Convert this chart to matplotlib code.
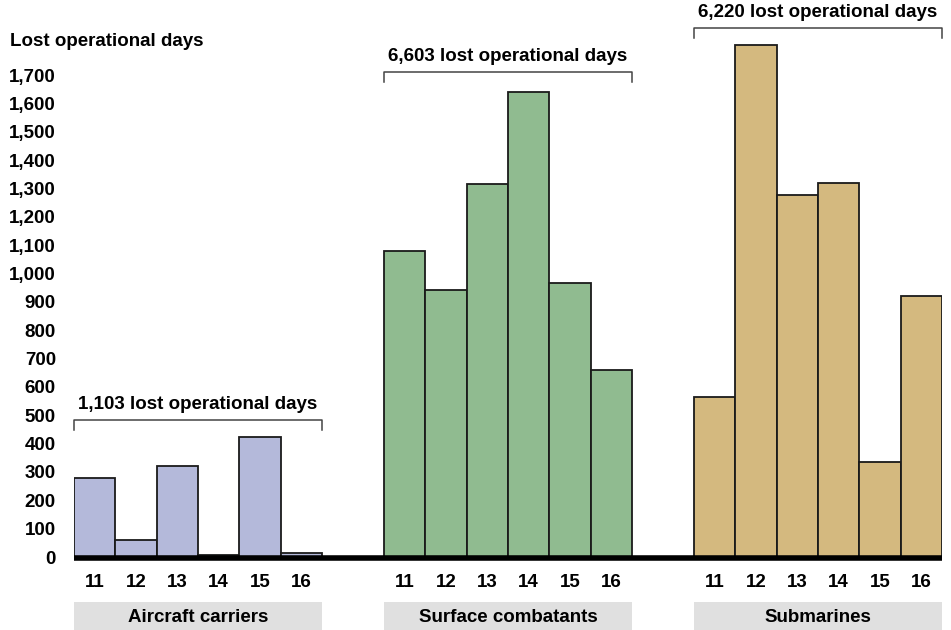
import matplotlib.pyplot as plt
from matplotlib.patches import Rectangle

plt.rcParams['font.family'] = ['Liberation Sans', 'DejaVu Sans']
plt.rcParams['font.weight'] = 'bold'

# data
groups = ["Aircraft carriers", "Surface combatants", "Submarines"]
years = ["11", "12", "13", "14", "15", "16"]
carriers = [278, 60, 322, 8, 422, 15]
surface = [1078, 942, 1317, 1640, 966, 660]
submarines = [565, 1805, 1276, 1320, 334, 920]
totals = ["1,103", "6,603", "6,220"]
colors = ["#b4b9da", "#90bb90", "#d4b97f"]
yticks = list(range(0, 1800, 100))

series = [carriers, surface, submarines]
bracket_y = [483, 1710, 1866]
group_step = 7.5
fs = 13.5

fig = plt.figure(figsize=(9.51, 6.30), dpi=100, facecolor="w")
ax = fig.add_axes([74 / 951, 73 / 630, 868 / 951, 538.6 / 630])
ax.set_xlim(0, 21)
ax.set_ylim(0, 1900)

xt, xl = [], []
for g, vals in enumerate(series):
    x0 = g * group_step
    xs = [x0 + i + 0.5 for i in range(len(vals))]
    ax.bar(xs, vals, width=1.0, color=colors[g], edgecolor="#1a1a1a",
           linewidth=1.3, zorder=2)
    xt += xs
    xl += years

    # bracket with total
    by = bracket_y[g]
    ax.plot([x0, x0, x0 + 6, x0 + 6], [by - 36, by, by, by - 36],
            color="#444444", linewidth=1.1, clip_on=False)
    ax.text(x0 + 3, by + 26, totals[g] + " lost operational days",
            ha="center", va="bottom", fontsize=fs, clip_on=False)

    # grey category box
    ax.add_patch(Rectangle((x0, -257), 6, 98, facecolor="#e0e0e0",
                           edgecolor="none", clip_on=False))
    ax.text(x0 + 3, -214, groups[g], ha="center", va="center", fontsize=fs)

# thick baseline
ax.plot([0, 21], [-4, -4], color="black", linewidth=4.0, zorder=3,
        solid_capstyle="butt", clip_on=False)

ax.set_xticks(xt)
ax.set_xticklabels(xl, fontsize=fs)
ax.set_yticks(yticks)
ax.set_yticklabels([f"{v:,}" for v in yticks], fontsize=fs)
ax.tick_params(axis="both", length=0)
ax.tick_params(axis="x", pad=12)
ax.tick_params(axis="y", pad=13)
for s in ax.spines.values():
    s.set_visible(False)

fig.text(10 / 951, 1 - 42 / 630, "Lost operational days", ha="left",
         va="center", fontsize=fs)

fig.savefig("out.png", dpi=100)
